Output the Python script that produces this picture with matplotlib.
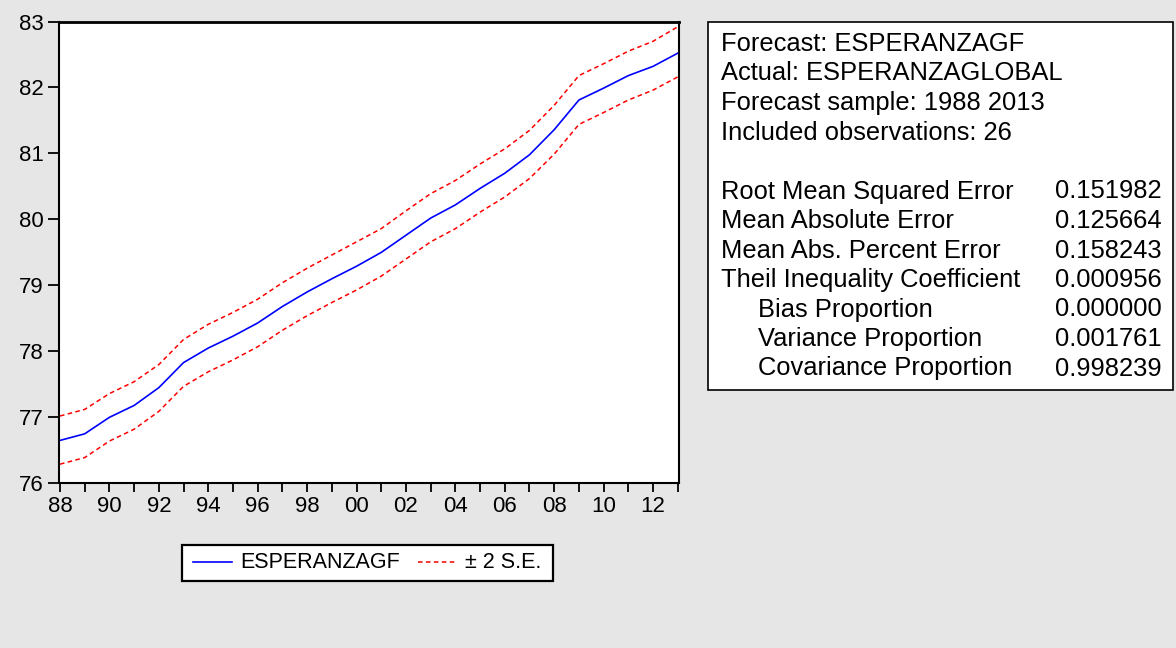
import matplotlib.pyplot as plt
from matplotlib.patches import Rectangle
from matplotlib.lines import Line2D

plt.rcParams['font.family'] = ['Liberation Sans', 'DejaVu Sans']

years = [1988, 1989, 1990, 1991, 1992, 1993, 1994, 1995, 1996, 1997, 1998, 1999, 2000,
         2001, 2002, 2003, 2004, 2005, 2006, 2007, 2008, 2009, 2010, 2011, 2012, 2013]
forecast = [76.65, 76.75, 77.00, 77.18, 77.45, 77.83, 78.05, 78.23, 78.43, 78.68, 78.90, 79.10, 79.29,
            79.50, 79.76, 80.02, 80.22, 80.47, 80.70, 80.98, 81.36, 81.81, 81.99, 82.18, 82.32, 82.52]
upper = [77.02, 77.12, 77.36, 77.54, 77.80, 78.18, 78.41, 78.59, 78.79, 79.04, 79.26, 79.46, 79.66,
         79.86, 80.13, 80.39, 80.59, 80.84, 81.07, 81.35, 81.73, 82.18, 82.36, 82.55, 82.70, 82.92]
lower = [76.29, 76.39, 76.64, 76.82, 77.09, 77.47, 77.69, 77.87, 78.07, 78.32, 78.54, 78.74, 78.93,
         79.14, 79.40, 79.66, 79.86, 80.11, 80.34, 80.62, 80.99, 81.44, 81.62, 81.81, 81.96, 82.16]

header_lines = ['Forecast: ESPERANZAGF', 'Actual: ESPERANZAGLOBAL',
                'Forecast sample: 1988 2013', 'Included observations: 26']
stat_names = ['Root Mean Squared Error', 'Mean Absolute Error', 'Mean Abs. Percent Error',
              'Theil Inequality Coefficient', 'Bias Proportion', 'Variance Proportion',
              'Covariance Proportion']
stat_values = ['0.151982', '0.125664', '0.158243', '0.000956', '0.000000', '0.001761', '0.998239']
stat_indent = [False, False, False, False, True, True, True]

W, H = 1176, 648
BG = '#e6e6e6'
STAT_FS = 18.4


def fx(px):
    return px / W


def fy(py):
    return 1 - py / H


fig = plt.figure(figsize=(W / 100, H / 100), dpi=100, facecolor=BG)

# main plot
ax = fig.add_axes([fx(59), fy(483.3), fx(620), (483.3 - 21.5) / H])
ax.plot(years, forecast, color='#0000ff', lw=1.2)
ax.plot(years, upper, color='#ff0000', lw=1.1, dashes=(3, 2.2))
ax.plot(years, lower, color='#ff0000', lw=1.1, dashes=(3, 2.2))

ax.set_xlim(1987.96, 2013.05)
ax.set_ylim(76, 83)
ax.set_yticks([76, 77, 78, 79, 80, 81, 82, 83])
ax.set_xticks(years)
ax.set_xticklabels(['%02d' % (y % 100) if y % 2 == 0 else '' for y in years])
ax.tick_params(axis='y', length=8, width=1.3, pad=3, labelsize=16)
ax.tick_params(axis='x', length=6.5, width=1.3, pad=3, labelsize=16)
for s in ax.spines.values():
    s.set_linewidth(1.5)
ax.spines['top'].set_linewidth(2)

# legend box
fig.add_artist(Rectangle((fx(181.7), fy(580.7)), fx(553 - 181.7), (580.7 - 545) / H,
                         transform=fig.transFigure, facecolor='white', edgecolor='black', lw=1.6))
fig.add_artist(Line2D([fx(193), fx(232)], [fy(562), fy(562)], transform=fig.transFigure,
                      color='#0000ff', lw=1.2))
fig.text(fx(240.5), fy(563), 'ESPERANZAGF', fontsize=15.5, va='center', ha='left')
fig.add_artist(Line2D([fx(418), fx(456)], [fy(562), fy(562)], transform=fig.transFigure,
                      color='#ff0000', lw=1.1, dashes=(3, 2.2)))
fig.text(fx(465), fy(563), '± 2 S.E.', fontsize=15.5, va='center', ha='left')

# statistics box
fig.add_artist(Rectangle((fx(708), fy(390)), fx(1173 - 708), (390 - 21.7) / H,
                         transform=fig.transFigure, facecolor='white', edgecolor='black', lw=1.2))
line_h = 29.5
y0 = 44
for i, t in enumerate(header_lines):
    fig.text(fx(721.5), fy(y0 + i * line_h), t, fontsize=STAT_FS, va='center', ha='left')
y1 = 191.5
for i, (n, v, ind) in enumerate(zip(stat_names, stat_values, stat_indent)):
    yy = fy(y1 + i * line_h)
    fig.text(fx(758 if ind else 721.5), yy, n, fontsize=STAT_FS, va='center', ha='left')
    fig.text(fx(1162), yy, v, fontsize=STAT_FS, va='center', ha='right')

fig.savefig('out.png', dpi=100, facecolor=BG)
